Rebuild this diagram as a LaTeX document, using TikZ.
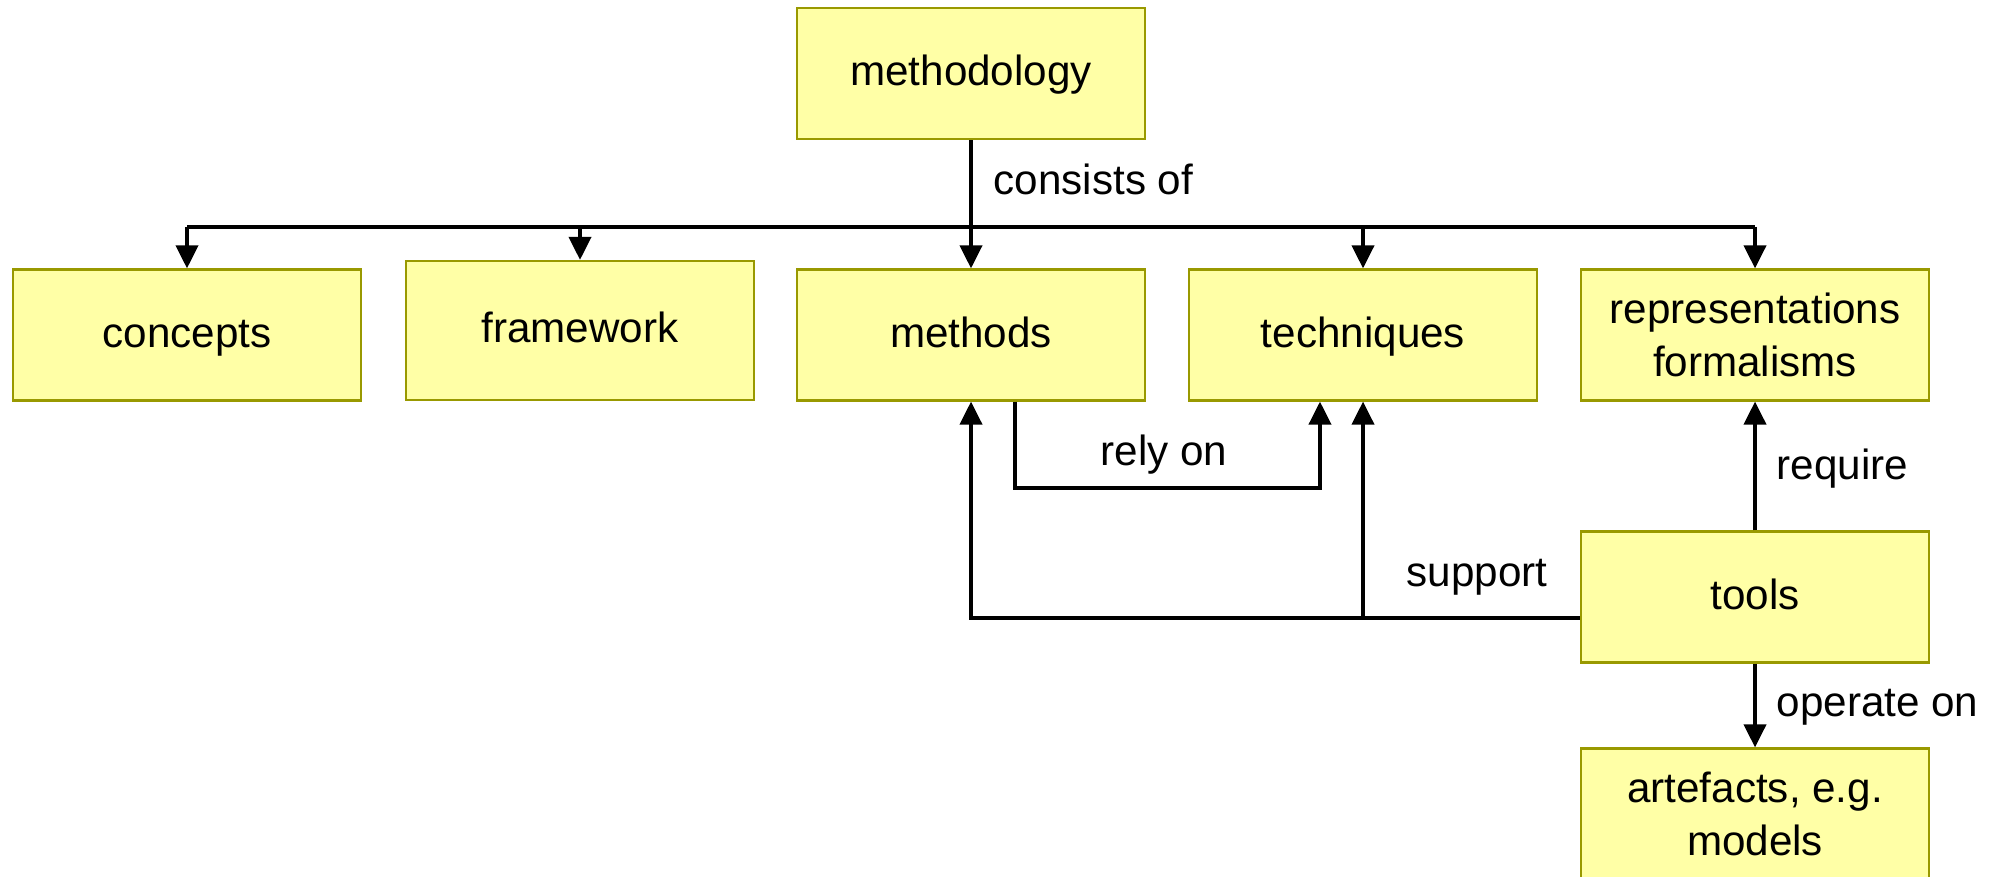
\documentclass[tikz,border=0pt]{standalone}
\usepackage{fontspec}
\setmainfont{Liberation Sans}
\usetikzlibrary{arrows.meta}
\definecolor{boxfill}{HTML}{FFFFA6}
\definecolor{boxline}{HTML}{999900}
\tikzset{
  part/.style={draw=boxline, fill=boxfill, line width=0.6pt, minimum width=3.48cm, minimum height=1.31cm, align=center, inner sep=0pt},
  oneline/.style={text height=0.9em, text depth=0.2em},
  link/.style={line width=1.1pt, arrows={-Triangle[length=0.23cm,width=0.22cm]}},
  wire/.style={line width=1.1pt},
  rel/.style={inner sep=0pt}
}
\begin{document}
\begin{tikzpicture}[x=0.01cm, y=-0.01cm, font=\fontsize{12}{15}\selectfont]
                \useasboundingbox (0,0) rectangle (2000,877);

                \node[part, oneline] (methodology) at (971,73.5) {methodology};
                \node[part, oneline] (concepts) at (187,335) {concepts};
                \node[part, oneline, minimum height=1.39cm] (framework) at (580,330.5) {framework};
                \node[part, oneline] (methods) at (971,335) {methods};
                \node[part, oneline] (techniques) at (1363,335) {techniques};
                \node[part] (reprform) at (1755,335) {representations\\formalisms};
                \node[part, oneline] (tools) at (1755,597) {tools};
                \node[part] (artefacts) at (1755,814) {artefacts, e.g.\\models};

                % consists of
                \coordinate (bus) at (971,227);
                \draw[wire] (concepts.north |- bus) -- (reprform.north |- bus);
                \foreach \part in {concepts,framework,techniques,reprform}
                    \draw[link] (\part.north |- bus) -- (\part.north);
                \draw[link] (methodology) -- (methods);
                \node[rel, anchor=base west] (consistsof) at (993,195) {consists of};

                % rely on
                \draw[link] ([xshift=0.44cm]methods.south) -- ++(0,86) -| ([xshift=-0.43cm]techniques.south);
                \node[rel, anchor=base west] (relyon) at (1100,466) {rely on};

                % support
                \coordinate (suprow) at ([yshift=-0.21cm]tools.west);
                \draw[link] (suprow) -| (methods.south);
                \draw[link] (suprow -| techniques.south) -- (techniques.south);
                \node[rel, anchor=base west] (support) at (1406,587) {support};

                % require, operate on
                \draw[link] (tools) -- (reprform);
                \node[rel, anchor=base west] (require) at (1776,480) {require};
                \draw[link] (tools) -- (artefacts);
                \node[rel, anchor=base west] (operateon) at (1776,717) {operate on};
\end{tikzpicture}
\end{document}
